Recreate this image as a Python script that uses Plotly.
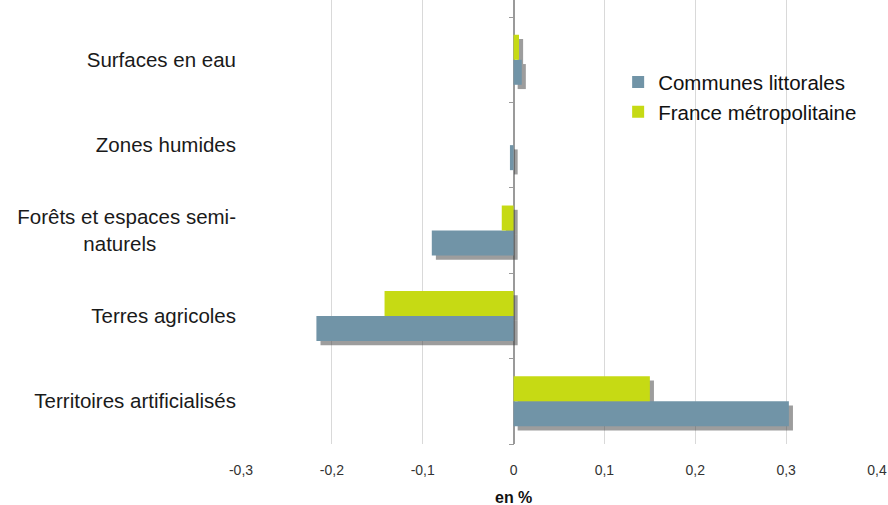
import plotly.graph_objects as go

NB = "\u00a0"
categories = [
    "Territoires artificialisés",
    "Terres agricoles",
    "Forêts et espaces semi-<br>naturels" + NB * 14,
    "Zones humides",
    "Surfaces en eau",
]
littoral = [0.303, -0.217, -0.090, -0.004, 0.009]
france = [0.150, -0.142, -0.013, 0.0, 0.006]
x_ticks = [-0.3, -0.2, -0.1, 0, 0.1, 0.2, 0.3, 0.4]
x_ticklabels = ["-0,3", "-0,2", "-0,1", "0", "0,1", "0,2", "0,3", "0,4"]

BLUE = "#7194a7"
YELLOW = "#c6da14"
FONT = "Liberation Sans, Arial, sans-serif"
BW = 0.293          # bar thickness (category units)
SDX = 0.0045        # shadow shift (x units)
SDY = 0.05          # shadow shift (category units)
SHADOW = "rgba(60,60,60,0.5)"

fig = go.Figure()
# shadows
for vals, off in ((france, 0.0), (littoral, -BW)):
    fig.add_trace(go.Bar(
        y=categories, x=vals, base=[SDX] * len(vals), orientation="h",
        width=BW, offset=off - SDY, marker=dict(color=SHADOW, line=dict(width=0)),
        showlegend=False, hoverinfo="skip"))
# bars
fig.add_trace(go.Bar(
    y=categories, x=littoral, orientation="h", name="Communes littorales",
    width=BW, offset=-BW, marker=dict(color=BLUE, line=dict(width=0))))
fig.add_trace(go.Bar(
    y=categories, x=france, orientation="h", name="France métropolitaine",
    width=BW, offset=0.0, marker=dict(color=YELLOW, line=dict(width=0))))
# invisible trace to activate the tick axis drawn on the zero line
fig.add_trace(go.Bar(y=categories, x=[None] * 5, orientation="h", yaxis="y2",
                     showlegend=False, hoverinfo="skip"))

fig.update_layout(
    width=888, height=505,
    margin=dict(l=241, r=11, t=0, b=61),
    paper_bgcolor="white", plot_bgcolor="white",
    barmode="overlay",
    font=dict(family=FONT, color="#1a1a1a"),
    legend=dict(x=0.593, y=0.86, xanchor="left", yanchor="top",
                font=dict(size=20.5, family=FONT, color="#111"),
                bgcolor="rgba(0,0,0,0)", itemwidth=30, tracegroupgap=0),
    xaxis=dict(range=[-0.3, 0.4], tickvals=x_ticks, ticktext=x_ticklabels,
               showgrid=True, gridcolor="#d9d9d9", gridwidth=1,
               zeroline=True, zerolinecolor="#9a9a9a", zerolinewidth=1.5,
               showline=False, ticks="", ticklabelstandoff=16,
               tickfont=dict(size=14, family=FONT, color="#333")),
    yaxis=dict(type="category", categoryorder="array", categoryarray=categories,
               range=[-0.5, 4.7], showgrid=False, zeroline=False, showline=False,
               ticks="", ticklabelstandoff=4,
               tickfont=dict(size=20.5, family=FONT, color="#1a1a1a")),
    yaxis2=dict(type="category", categoryorder="array", categoryarray=categories,
                matches="y", overlaying="y", anchor="free", position=0.3 / 0.7,
                side="left", ticks="outside", tickson="boundaries", ticklen=5,
                tickcolor="#9a9a9a", showticklabels=False, showgrid=False,
                zeroline=False, showline=False),
    annotations=[dict(text="<b>en %</b>", x=0, xref="x", y=0, yref="paper",
                      yshift=-53, yanchor="middle", showarrow=False,
                      font=dict(size=16, family=FONT, color="#111"))],
)

fig.write_html("out.html", config={"displayModeBar": False},
               post_script="document.body.style.margin='0';document.body.style.overflow='hidden';")
